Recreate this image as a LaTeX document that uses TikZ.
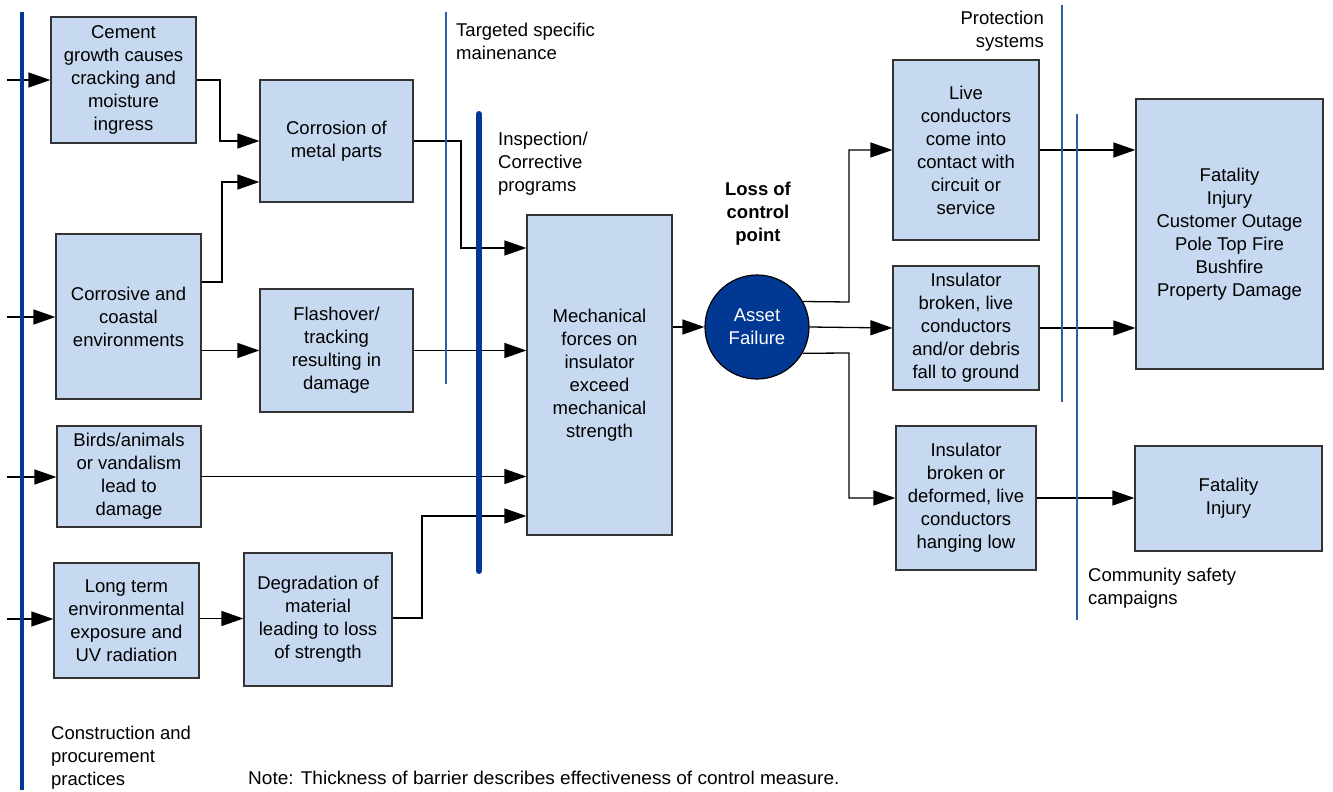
\documentclass[tikz,border=0pt]{standalone}
\usepackage{fontspec}
\setmainfont{Liberation Sans}
\usetikzlibrary{arrows.meta,calc}
\definecolor{boxfill}{HTML}{C6D9F0}
\definecolor{boxline}{HTML}{333333}
\definecolor{barblue}{HTML}{003893}
\definecolor{thinblue}{HTML}{2E5CAA}
\begin{document}
\begin{tikzpicture}[x=1pt,y=-1pt,
  every node/.style={font=\fontsize{18.5}{23}\selectfont},
  box/.style={draw=boxline,line width=1.2pt,fill=boxfill,align=center,inner sep=1pt},
  arr/.style={line width=1.3pt,-{Triangle[length=22pt,width=15pt]}},
  lbl/.style={inner sep=0pt,align=left},
  thickbar/.style={barblue,line width=4pt},
  heavybar/.style={barblue,line width=6pt,line cap=round},
  thinbar/.style={thinblue,line width=2pt},
  finebar/.style={thinblue,line width=1.5pt}]
\useasboundingbox (0,0) rectangle (1333,792);

% barriers
\coordinate (b1t) at (22,12);   \coordinate (b1b) at (22,790);
\coordinate (b2t) at (446,12);  \coordinate (b2b) at (446,384);
\coordinate (b3t) at (479,114); \coordinate (b3b) at (479,571);
\coordinate (b4t) at (1062,5);  \coordinate (b4b) at (1062,402);
\coordinate (b5t) at (1077,114);\coordinate (b5b) at (1077,620);

% boxes
\node[box,minimum width=145,minimum height=126] (cement) at (123.5,80) {Cement\\growth causes\\cracking and\\moisture\\ingress};
\node[box,minimum width=153,minimum height=122] (corr) at (336.5,141) {Corrosion of\\metal parts};
\node[box,minimum width=145,minimum height=165] (coast) at (128.5,316.5) {Corrosive and\\coastal\\environments};
\node[box,minimum width=153,minimum height=123] (flash) at (336.5,350.5) {Flashover/\\tracking\\resulting in\\damage};
\node[box,minimum width=144,minimum height=101] (birds) at (129,476.5) {Birds/animals\\or vandalism\\lead to\\damage};
\node[box,minimum width=145,minimum height=115] (long) at (126.5,620.5) {Long term\\environmental\\exposure and\\UV radiation};
\node[box,minimum width=148,minimum height=133] (degr) at (318,619.5) {Degradation of\\material\\leading to loss\\of strength};
\node[box,minimum width=145,minimum height=320] (mech) at (599.5,375) {Mechanical\\forces on\\insulator\\exceed\\mechanical\\strength};
\node[circle,draw=black,line width=1.2pt,fill=barblue,text=white,minimum size=104,inner sep=0pt,align=center] (asset) at (757,327) {Asset\\Failure};
\node[box,minimum width=146,minimum height=180] (live) at (966,150) {Live\\conductors\\come into\\contact with\\circuit or\\service};
\node[box,minimum width=146,minimum height=124] (insb) at (966,328) {Insulator\\broken, live\\conductors\\and/or debris\\fall to ground};
\node[box,minimum width=140,minimum height=144] (insd) at (966,498) {Insulator\\broken or\\deformed, live\\conductors\\hanging low};
\node[box,minimum width=187,minimum height=270] (fat1) at (1229.5,234) {Fatality\\Injury\\Customer Outage\\Pole Top Fire\\Bushfire\\Property Damage};
\node[box,minimum width=187,minimum height=105] (fat2) at (1228.5,498.5) {Fatality\\Injury};

% labels
\node[lbl,anchor=north west] (lt) at (456,23) {Targeted specific\\mainenance};
\node[lbl,anchor=north west] (li) at (498,132) {Inspection/\\Corrective\\programs};
\node[inner sep=0pt,align=center,anchor=north,font=\fontsize{18.5}{23}\selectfont\bfseries] (lc) at (758,182) {Loss of\\control\\point};
\node[inner sep=0pt,align=right,anchor=north east] (lp) at (1044,11) {Protection\\systems};
\node[lbl,anchor=north west] (lcs) at (1088,568) {Community safety\\campaigns};
\node[lbl,anchor=north west] (lcp) at (51,726) {Construction and\\procurement\\practices};
\node[inner sep=0pt,anchor=north west] (note) at (248,771) {\scalebox{1.03}[1]{Note: Thickness of barrier describes effectiveness of control measure.}};

% inputs
\coordinate (i1) at (7,80);
\coordinate (i2) at (7,317);
\coordinate (i3) at (7,477);
\coordinate (i4) at (7,619);
\draw[arr] (i1) -- (cement.west |- i1);
\draw[arr] (i2) -- (coast.west |- i2);
\draw[arr] (i3) -- (birds.west |- i3);
\draw[arr] (i4) -- (long.west |- i4);

% connectors
\draw[arr] (cement.east) -- (220,80) |- (corr.west);
\draw[arr] ($(coast.east)+(0,-34.5)$) -- (222,282) |- ($(corr.west)+(0,41)$);
\draw[arr] (coast.east |- flash.west) -- (flash.west);
\draw[arr] ($(long.east)+(0,-2)$) -- ($(degr.west)+(0,-1)$);
\draw[arr] (corr.east) -- (461,141) |- ($(mech.west)+(0,-127)$);
\draw[arr] (flash.east) -- (mech.west |- flash.east);
\draw[arr] (birds.east) -- (mech.west |- birds.east);
\draw[arr] ($(degr.east)+(0,-1.5)$) -- (422,618) |- ($(mech.west)+(0,141)$);
\draw[arr] (mech.east |- asset.west) -- (asset.west);
\draw[arr] (asset.29) -- (849,302) |- (live.west);
\draw[arr] (asset.east) -- (insb.west);
\draw[arr] (asset.-30) -- (849,353) |- (insd.west);
\draw[arr] (live.east) -- (fat1.west |- live.east);
\draw[arr] (insb.east) -- (fat1.west |- insb.east);
\draw[arr] (insd.east) -- (fat2.west |- insd.east);

% barriers drawn on top
\draw[thickbar] (b1t) -- (b1b);
\draw[thinbar] (b2t) -- (b2b);
\draw[heavybar] (b3t) -- (b3b);
\draw[finebar] (b4t) -- (b4b);
\draw[finebar] (b5t) -- (b5b);
\end{tikzpicture}
\end{document}
